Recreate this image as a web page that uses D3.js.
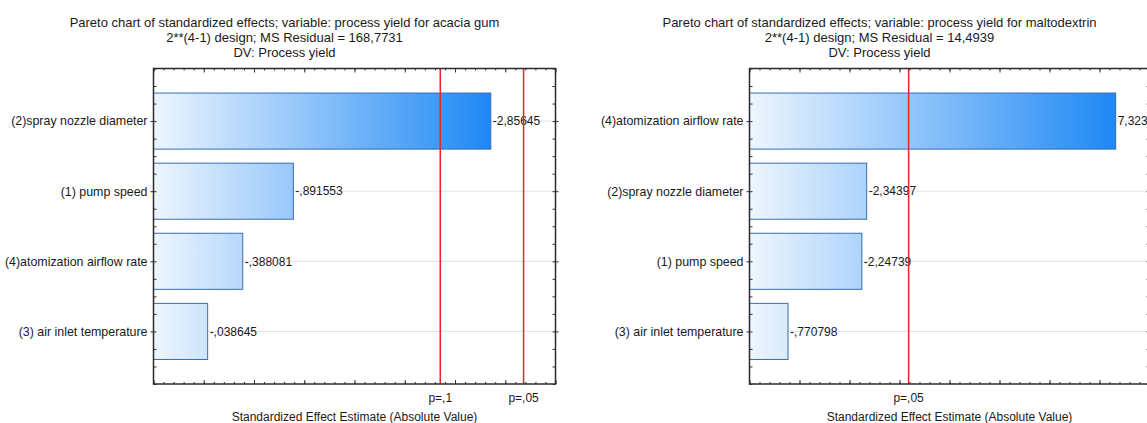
<!DOCTYPE html>
<html lang="en">
<head>
<meta charset="UTF-8">
<title>Pareto charts of standardized effects</title>
<script src="https://d3js.org/d3.v7.min.js"></script>
<style>
  body { margin: 0; background: #fff; }
  svg { display: block; font-family: "Liberation Sans", Arial, sans-serif; fill: #1a1a1a; }
  .tick line { stroke: #333; stroke-width: 1; }
  .grid { stroke: #e2e2e2; stroke-width: 1; }
</style>
</head>
<body>
<svg id="chart" width="1147" height="423"></svg>
<script>
// --- acacia gum ---
const titleA = ["Pareto chart of standardized effects; variable: process yield for acacia gum",
                "2**(4-1) design; MS Residual = 168,7731",
                "DV: Process yield"];
const factorsA = ["(2)spray nozzle diameter", "(1) pump speed", "(4)atomization airflow rate", "(3) air inlet temperature"];
const effectsA = [-2.85645, -0.891553, -0.388081, -0.038645];
const critA = [2.353363, 3.182446];
const critLabelsA = ["p=,1", "p=,05"];
const xDomainA = [-0.5, 3.5];

// --- maltodextrin ---
const titleB = ["Pareto chart of standardized effects; variable: process yield for maltodextrin",
                "2**(4-1) design; MS Residual = 14,4939",
                "DV: Process yield"];
const factorsB = ["(4)atomization airflow rate", "(2)spray nozzle diameter", "(1) pump speed", "(3) air inlet temperature"];
const effectsB = [7.32345, -2.34397, -2.24739, -0.770798];
const critB = [3.182446];
const critLabelsB = ["p=,05"];
const xDomainB = [0, 8];

const axisTitle = "Standardized Effect Estimate (Absolute Value)";

const svg = d3.select("#chart");
const defs = svg.append("defs");
const plotTop = 68.5, plotBottom = 384;

// Statistica style: comma decimal, no leading zero
function fmt(v) {
    return String(v).replace(".", ",").replace(/^(-?)0,/, "$1,");
}

function stepsFrom(d0, d1, step) {
    const n = Math.round((d1 - d0) / step);
    return d3.range(n + 1).map(i => +(d0 + i * step).toFixed(6));
}

function drawPanel(cfg) {
    const g = svg.append("g");
    const x = d3.scaleLinear().domain(cfg.xDomain).range([cfg.left, cfg.left + cfg.width]);
    const n = cfg.factors.length;
    const y = d3.scaleLinear().domain([0.25, n + 0.75]).range([plotTop, plotBottom]);
    const x0 = x.range()[0], x1 = x.range()[1];
    const maxAbs = d3.max(cfg.effects, v => Math.abs(v));

    const grad = defs.append("linearGradient")
        .attr("id", cfg.id + "-grad")
        .attr("gradientUnits", "userSpaceOnUse")
        .attr("x1", x0).attr("x2", x(maxAbs)).attr("y1", 0).attr("y2", 0);
    grad.append("stop").attr("offset", 0).attr("stop-color", "#eef6fe");
    grad.append("stop").attr("offset", 1).attr("stop-color", "#1e88f5");

    // gridlines at category centres
    g.selectAll("line.grid").data(cfg.effects).join("line")
        .attr("class", "grid")
        .attr("x1", x0).attr("x2", x1)
        .attr("y1", (d, i) => y(i + 1)).attr("y2", (d, i) => y(i + 1));

    // bars
    g.selectAll("rect.bar").data(cfg.effects).join("rect")
        .attr("class", "bar")
        .attr("x", x0)
        .attr("y", (d, i) => y(i + 1 - 0.4))
        .attr("width", d => x(Math.abs(d)) - x0)
        .attr("height", (d, i) => y(i + 1 + 0.4) - y(i + 1 - 0.4))
        .attr("fill", `url(#${cfg.id}-grad)`)
        .attr("stroke", "#3a6cb4")
        .attr("stroke-width", 1);

    g.selectAll("text.val").data(cfg.effects).join("text")
        .attr("class", "val")
        .attr("x", d => x(Math.abs(d)) + 2)
        .attr("y", (d, i) => y(i + 1))
        .attr("dy", "0.35em")
        .attr("font-size", 12)
        .text(d => fmt(d));

    // critical t lines
    g.selectAll("line.crit").data(cfg.crit).join("line")
        .attr("class", "crit")
        .attr("x1", d => x(d)).attr("x2", d => x(d))
        .attr("y1", plotTop).attr("y2", plotBottom)
        .attr("stroke", "#e4262c").attr("stroke-width", 1.5);

    g.selectAll("text.crit").data(cfg.crit).join("text")
        .attr("class", "crit")
        .attr("x", d => x(d))
        .attr("y", plotBottom + 14)
        .attr("dy", "0.35em")
        .attr("text-anchor", "middle")
        .attr("font-size", 12)
        .text((d, i) => cfg.critLabels[i]);

    // ticks (all pointing into the plot)
    const majorX = stepsFrom(cfg.xDomain[0], cfg.xDomain[1], cfg.major);
    const minorX = stepsFrom(cfg.xDomain[0], cfg.xDomain[1], cfg.minor);
    const ax = [
        [d3.axisTop, plotTop, minorX, -2], [d3.axisTop, plotTop, majorX, -4],
        [d3.axisBottom, plotBottom, minorX, -2], [d3.axisBottom, plotBottom, majorX, -4]
    ];
    ax.forEach(([fn, ty, vals, size]) => {
        g.append("g").attr("transform", `translate(0,${ty})`)
            .call(fn(x).tickValues(vals).tickSize(size).tickFormat(""))
            .call(s => s.select(".domain").remove());
    });

    const minorY = stepsFrom(0.25, n + 0.75, 0.25);
    const catY = d3.range(1, n + 1);
    const ay = [
        [d3.axisLeft, x0, minorY, -3], [d3.axisLeft, x0, catY, 3],
        [d3.axisRight, x1, minorY, -3], [d3.axisRight, x1, catY, 3]
    ];
    ay.forEach(([fn, tx, vals, size]) => {
        g.append("g").attr("transform", `translate(${tx},0)`)
            .call(fn(y).tickValues(vals).tickSize(size).tickFormat(""))
            .call(s => s.select(".domain").remove());
    });

    // frame
    g.append("rect")
        .attr("x", x0).attr("y", plotTop)
        .attr("width", x1 - x0).attr("height", plotBottom - plotTop)
        .attr("fill", "none").attr("stroke", "#2b2b2b").attr("stroke-width", 1.5);

    // category labels
    g.selectAll("text.cat").data(cfg.factors).join("text")
        .attr("class", "cat")
        .attr("x", x0 - 6)
        .attr("y", (d, i) => y(i + 1))
        .attr("dy", "0.35em")
        .attr("text-anchor", "end")
        .attr("font-size", 12.4)
        .text(d => d);

    // titles
    const cx = (x0 + x1) / 2;
    g.selectAll("text.title").data(cfg.title).join("text")
        .attr("class", "title")
        .attr("x", cx - 70)
        .attr("y", (d, i) => 22 + i * 15)
        .attr("dy", "0.35em")
        .attr("text-anchor", "middle")
        .attr("font-size", 13)
        .text(d => d);

    g.append("text")
        .attr("x", cx).attr("y", 417)
        .attr("dy", "0.35em")
        .attr("text-anchor", "middle")
        .attr("font-size", 12)
        .text(axisTitle);
}

drawPanel({ id: "a", left: 153.5, width: 402, xDomain: xDomainA, major: 0.5, minor: 0.1,
    factors: factorsA, effects: effectsA, crit: critA, critLabels: critLabelsA, title: titleA });
drawPanel({ id: "b", left: 749.5, width: 400, xDomain: xDomainB, major: 1, minor: 0.2,
    factors: factorsB, effects: effectsB, crit: critB, critLabels: critLabelsB, title: titleB });
</script>
</body>
</html>
